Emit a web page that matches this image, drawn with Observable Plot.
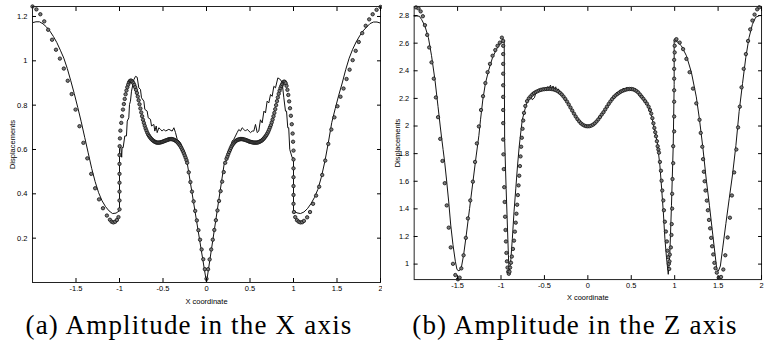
<!DOCTYPE html>
<html><head><meta charset="utf-8">
<script src="https://cdn.jsdelivr.net/npm/d3@7"></script>
<script src="https://cdn.jsdelivr.net/npm/@observablehq/plot@0.6"></script>
<style>
html,body{margin:0;padding:0;background:#fff;overflow:hidden;width:764px;height:350px;}
#a{position:absolute;left:0;top:0;}
#b{position:absolute;left:382px;top:0;}
.cap{position:absolute;top:310px;font-family:"Liberation Serif",serif;font-size:27px;letter-spacing:1.2px;white-space:nowrap;transform:translateX(-50%);color:#000;line-height:30px;}
</style></head><body>
<div id="a"></div><div id="b"></div>
<div class="cap" style="left:189px">(a) Amplitude in the X axis</div>
<div class="cap" style="left:575px">(b) Amplitude in the Z axis</div>
<script>
const xTicks = [-1.5, -1, -0.5, 0, 0.5, 1, 1.5, 2];
const aYTicks = [0.2, 0.4, 0.6, 0.8, 1, 1.2];
const bYTicks = [1, 1.2, 1.4, 1.6, 1.8, 2, 2.2, 2.4, 2.6, 2.8];
const xLabel = "X coordinate";
const yLabel = "Displacements";

// Panel (a): circles
const aDots = [[-2.00,1.245],[-1.955,1.232],[-1.91,1.21],[-1.865,1.178],[-1.82,1.14],[-1.775,1.095],[-1.73,1.05],[-1.685,1.01],[-1.64,0.965],[-1.595,0.91],[-1.55,0.85],[-1.505,0.78],[-1.46,0.705],[-1.415,0.63],[-1.37,0.56],[-1.325,0.49],[-1.28,0.425],[-1.235,0.375],[-1.19,0.335],[-1.145,0.302],[-1.11,0.283],[-1.09,0.274],[-1.07,0.271],[-1.05,0.274],[-1.03,0.282],[-1.012,0.295],
[-1.0,0.33],[-1.0,0.37],[-1.0,0.41],[-1.0,0.45],[-1.0,0.49],[-1.0,0.535],[-1.0,0.575],[-0.998,0.615],[-0.995,0.65],[-0.99,0.685],[-0.98,0.72],[-0.97,0.75],[-0.96,0.78],[-0.95,0.805],[-0.94,0.828],[-0.93,0.849],[-0.92,0.866],[-0.91,0.881],[-0.90,0.893],[-0.89,0.903],[-0.88,0.909],[-0.87,0.911],
[-0.86,0.909],[-0.85,0.905],[-0.84,0.899],[-0.83,0.891],[-0.82,0.881],[-0.81,0.869],[-0.80,0.855],[-0.79,0.839],[-0.78,0.822],[-0.77,0.804],[-0.76,0.785],[-0.75,0.767],[-0.74,0.75],[-0.73,0.734],[-0.72,0.72],[-0.71,0.707],[-0.70,0.695],[-0.69,0.685],[-0.68,0.675],[-0.67,0.667],[-0.66,0.661],[-0.65,0.655],[-0.64,0.65],[-0.63,0.646],[-0.62,0.642],[-0.61,0.639],[-0.60,0.636],[-0.59,0.634],[-0.58,0.632],[-0.57,0.631],[-0.56,0.631],[-0.55,0.631],[-0.54,0.631],[-0.53,0.632],[-0.52,0.633],[-0.51,0.634],[-0.50,0.636],[-0.49,0.637],[-0.48,0.639],[-0.47,0.64],[-0.46,0.642],[-0.45,0.643],[-0.44,0.645],[-0.43,0.646],[-0.42,0.647],[-0.41,0.647],[-0.40,0.647],[-0.39,0.646],[-0.38,0.645],[-0.37,0.643],[-0.36,0.641],[-0.35,0.638],[-0.34,0.635],[-0.33,0.631],[-0.32,0.626],[-0.31,0.621],[-0.30,0.615],[-0.29,0.608],[-0.28,0.60],[-0.27,0.592],[-0.26,0.583],[-0.25,0.573],[-0.24,0.563],[-0.23,0.552],[-0.222,0.54],
[-0.204,0.497],[-0.185,0.453],[-0.167,0.41],[-0.148,0.366],[-0.13,0.323],[-0.111,0.28],[-0.093,0.236],[-0.074,0.193],[-0.056,0.149],[-0.037,0.105],[-0.019,0.06],[0.0,0.017],
[0.018,0.06],[0.036,0.104],[0.054,0.149],[0.072,0.193],[0.09,0.237],[0.108,0.281],[0.126,0.325],[0.144,0.368],[0.162,0.412],[0.18,0.455],[0.198,0.498],[0.215,0.54],
[0.23,0.558],[0.24,0.568],[0.25,0.579],[0.26,0.589],[0.27,0.598],[0.28,0.607],[0.29,0.615],[0.30,0.622],[0.31,0.627],[0.32,0.632],[0.33,0.636],[0.34,0.639],[0.35,0.642],[0.36,0.644],[0.37,0.645],[0.38,0.646],[0.39,0.647],[0.40,0.647],[0.41,0.647],[0.42,0.646],[0.43,0.645],[0.44,0.644],[0.45,0.643],[0.46,0.641],[0.47,0.64],[0.48,0.638],[0.49,0.636],[0.50,0.635],[0.51,0.634],[0.52,0.633],[0.53,0.632],[0.54,0.631],[0.55,0.631],[0.56,0.631],[0.57,0.631],[0.58,0.631],[0.59,0.632],[0.60,0.633],[0.61,0.635],[0.62,0.637],[0.63,0.639],[0.64,0.642],[0.65,0.646],[0.66,0.65],[0.67,0.655],[0.68,0.66],[0.69,0.666],[0.70,0.673],[0.71,0.681],[0.72,0.69],[0.73,0.70],[0.74,0.71],[0.75,0.722],[0.76,0.735],[0.77,0.75],[0.78,0.765],[0.79,0.782],[0.80,0.80],[0.81,0.818],[0.82,0.835],[0.83,0.851],[0.84,0.865],[0.85,0.877],[0.86,0.887],[0.87,0.895],[0.88,0.902],[0.89,0.906],[0.90,0.905],[0.91,0.899],[0.92,0.887],[0.93,0.869],[0.94,0.846],[0.95,0.817],[0.96,0.786],[0.97,0.752],[0.98,0.714],[0.99,0.672],[0.995,0.635],
[1.0,0.595],[1.0,0.555],[1.0,0.515],[1.0,0.475],[1.0,0.435],[1.0,0.395],[1.0,0.355],[1.005,0.318],[1.02,0.295],[1.04,0.281],[1.06,0.274],[1.08,0.271],[1.10,0.272],[1.12,0.278],[1.157,0.294],[1.19,0.318],[1.225,0.355],[1.26,0.392],[1.295,0.432],[1.33,0.485],[1.365,0.55],[1.40,0.625],[1.435,0.69],[1.47,0.745],[1.505,0.795],[1.54,0.838],[1.575,0.875],[1.61,0.918],[1.645,0.96],[1.68,1.003],[1.715,1.045],[1.75,1.085],[1.79,1.125],[1.83,1.158],[1.87,1.187],[1.91,1.21],[1.955,1.23],[2.0,1.243]];

// Panel (a): solid line
const aLine = [[-2.00,1.172],[-1.96,1.176],[-1.92,1.176],[-1.88,1.167],[-1.84,1.153],[-1.80,1.134],[-1.76,1.11],[-1.72,1.082],[-1.68,1.048],[-1.64,1.012],[-1.60,0.965],[-1.56,0.91],[-1.52,0.852],[-1.48,0.79],[-1.44,0.725],[-1.40,0.655],[-1.36,0.585],[-1.32,0.515],[-1.28,0.455],[-1.24,0.405],[-1.20,0.368],[-1.16,0.342],[-1.12,0.323],[-1.08,0.311],[-1.04,0.313],[-1.00,0.324],
[-1.0,0.605],[-0.985,0.61],[-0.975,0.565],[-0.97,0.61],[-0.958,0.608],[-0.939,0.661],[-0.92,0.661],[-0.911,0.728],[-0.893,0.743],[-0.885,0.803],[-0.874,0.818],[-0.862,0.863],[-0.835,0.915],[-0.816,0.930],[-0.797,0.926],[-0.778,0.878],[-0.759,0.871],[-0.747,0.833],[-0.72,0.818],[-0.709,0.781],[-0.682,0.773],[-0.67,0.743],[-0.644,0.736],[-0.632,0.706],[-0.605,0.713],[-0.594,0.683],[-0.578,0.706],[-0.567,0.676],[-0.548,0.698],[-0.529,0.691],[-0.51,0.683],[-0.49,0.691],[-0.471,0.683],[-0.433,0.691],[-0.395,0.683],[-0.375,0.698],[-0.356,0.676],[-0.337,0.646],[-0.299,0.631],[-0.261,0.586],[-0.241,0.563],[-0.222,0.54],[0.0,0.0],
[0.205,0.54],[0.238,0.556],[0.276,0.608],[0.295,0.638],[0.314,0.646],[0.333,0.661],[0.352,0.676],[0.371,0.69],[0.391,0.683],[0.41,0.698],[0.429,0.691],[0.448,0.683],[0.467,0.691],[0.506,0.676],[0.525,0.683],[0.544,0.683],[0.563,0.713],[0.583,0.676],[0.601,0.683],[0.62,0.734],[0.64,0.72],[0.66,0.773],[0.678,0.765],[0.697,0.818],[0.716,0.81],[0.736,0.848],[0.755,0.84],[0.774,0.885],[0.793,0.878],[0.82,0.923],[0.851,0.915],[0.87,0.90],[0.889,0.833],[0.908,0.773],[0.92,0.773],[0.934,0.698],[0.945,0.698],[0.957,0.60],[0.985,0.563],[1.0,0.563],[1.0,0.324],
[1.04,0.314],[1.08,0.311],[1.12,0.318],[1.16,0.333],[1.20,0.355],[1.24,0.383],[1.28,0.42],[1.32,0.475],[1.36,0.545],[1.40,0.63],[1.44,0.722],[1.48,0.785],[1.52,0.845],[1.56,0.90],[1.60,0.96],[1.64,1.012],[1.68,1.052],[1.72,1.085],[1.76,1.112],[1.80,1.135],[1.84,1.152],[1.88,1.168],[1.92,1.175],[1.96,1.175],[2.00,1.17]];

// Panel (b): circles
const bDots = [[-1.978,2.859],[-1.95,2.852],[-1.925,2.83],[-1.90,2.795],[-1.876,2.73],[-1.85,2.66],[-1.827,2.569],[-1.80,2.461],[-1.774,2.343],[-1.75,2.207],[-1.725,2.064],[-1.70,1.907],[-1.674,1.747],[-1.648,1.586],[-1.625,1.425],[-1.602,1.264],[-1.579,1.121],[-1.553,1.002],[-1.526,0.921],[-1.496,0.89],[-1.476,0.902],[-1.457,0.969],[-1.431,1.064],[-1.405,1.19],[-1.381,1.331],[-1.354,1.461],[-1.324,1.597],[-1.299,1.74],[-1.278,1.874],[-1.255,1.997],[-1.23,2.116],[-1.207,2.216],[-1.18,2.311],[-1.154,2.39],[-1.127,2.45],[-1.097,2.509],[-1.066,2.55],[-1.04,2.581],[-1.013,2.604],[-0.99,2.64],
[-0.975,2.616],[-0.975,2.581],[-0.975,2.521],[-0.975,2.45],[-0.975,2.379],[-0.975,2.295],[-0.975,2.211],[-0.975,2.116],[-0.975,2.021],[-0.975,1.902],[-0.972,1.795],[-0.968,1.688],[-0.963,1.557],[-0.958,1.45],[-0.953,1.343],[-0.948,1.247],[-0.943,1.164],[-0.938,1.081],[-0.932,1.02],[-0.925,0.975],[-0.917,0.945],[-0.91,0.93],[-0.902,0.945],[-0.895,0.975],[-0.885,1.01],[-0.875,1.055],[-0.862,1.11],[-0.85,1.17],[-0.84,1.235],[-0.83,1.30],[-0.822,1.365],[-0.814,1.43],[-0.806,1.50],[-0.798,1.57],[-0.79,1.64],[-0.782,1.71],[-0.775,1.78],[-0.768,1.85],[-0.76,1.915],[-0.752,1.98],[-0.744,2.04],[-0.735,2.095],[-0.72,2.145],[-0.70,2.18],
[-0.68,2.20],[-0.66,2.215],[-0.64,2.228],[-0.62,2.238],[-0.60,2.246],[-0.58,2.252],[-0.56,2.258],[-0.54,2.262],[-0.52,2.265],[-0.50,2.267],[-0.48,2.268],[-0.46,2.269],[-0.44,2.269],[-0.42,2.268],[-0.40,2.266],[-0.38,2.262],[-0.36,2.257],[-0.34,2.25],[-0.32,2.24],[-0.30,2.228],[-0.28,2.213],[-0.26,2.196],[-0.24,2.177],[-0.22,2.156],[-0.20,2.134],[-0.18,2.112],[-0.16,2.09],[-0.14,2.069],[-0.12,2.05],[-0.10,2.034],[-0.08,2.02],[-0.06,2.01],[-0.04,2.003],[-0.02,1.999],[0,1.998],[0.02,1.999],[0.04,2.003],[0.06,2.01],[0.08,2.02],[0.10,2.033],[0.12,2.048],[0.14,2.065],[0.16,2.083],[0.18,2.10],[0.20,2.12],[0.22,2.14],[0.24,2.16],[0.26,2.178],[0.28,2.195],[0.30,2.21],[0.32,2.222],[0.34,2.232],[0.36,2.241],[0.38,2.249],[0.40,2.255],[0.42,2.26],[0.44,2.264],[0.46,2.267],[0.48,2.268],[0.50,2.268],[0.52,2.266],[0.54,2.261],[0.56,2.253],[0.58,2.243],[0.60,2.228],[0.62,2.212],[0.64,2.197],[0.66,2.18],[0.68,2.162],[0.70,2.14],[0.716,2.116],[0.73,2.09],[0.743,2.057],[0.755,2.02],[0.766,1.986],[0.776,1.955],[0.785,1.926],[0.795,1.89],[0.804,1.854],[0.812,1.83],[0.819,1.807],[0.83,1.74],[0.842,1.676],[0.849,1.604],[0.857,1.533],[0.869,1.461],[0.876,1.39],[0.887,1.307],[0.899,1.236],[0.91,1.164],[0.918,1.097],[0.926,1.05],[0.933,1.002],[0.937,0.965],[0.94,1.02],
[0.944,1.069],[0.956,1.121],[0.963,1.211],[0.966,1.29],[0.971,1.402],[0.971,1.509],[0.975,1.616],[0.983,1.731],[0.983,1.854],[0.994,1.961],[0.994,2.069],[0.994,2.176],[0.994,2.259],[0.994,2.343],[0.994,2.414],[0.994,2.479],[1.0,2.533],[1.0,2.581],[1.01,2.621],[1.02,2.629],[1.058,2.604],[1.097,2.557],[1.135,2.486],[1.172,2.39],[1.211,2.271],[1.249,2.164],[1.286,2.045],[1.30,1.95],[1.318,1.85],[1.327,1.76],[1.336,1.669],[1.345,1.60],[1.355,1.533],[1.37,1.46],[1.382,1.39],[1.395,1.32],[1.408,1.259],[1.42,1.19],[1.431,1.129],[1.444,1.07],[1.457,1.009],[1.47,0.97],[1.485,0.938],[1.507,0.902],[1.534,0.907],[1.56,0.961],[1.583,1.064],[1.61,1.193],[1.636,1.336],[1.659,1.497],[1.685,1.664],[1.71,1.83],[1.73,1.99],[1.75,2.14],[1.77,2.28],[1.795,2.414],[1.82,2.521],[1.845,2.616],[1.87,2.70],[1.895,2.764],[1.92,2.807],[1.95,2.845],[1.975,2.86]];

// Panel (b): solid line
const bLine = [[-2.0,2.795],[-1.97,2.797],[-1.94,2.795],[-1.914,2.771],[-1.876,2.724],[-1.836,2.64],[-1.80,2.509],[-1.76,2.331],[-1.725,2.14],[-1.70,2.00],[-1.685,1.92],[-1.667,1.83],[-1.648,1.735],[-1.628,1.616],[-1.602,1.45],[-1.579,1.283],[-1.553,1.14],[-1.526,1.021],[-1.507,0.961],[-1.484,0.95],[-1.457,0.974],[-1.43,1.069],[-1.40,1.211],[-1.362,1.402],[-1.324,1.593],[-1.286,1.783],[-1.255,1.93],[-1.236,2.045],[-1.21,2.188],[-1.18,2.307],[-1.143,2.402],[-1.097,2.497],[-1.051,2.557],[-1.013,2.593],[-0.983,2.616],[-0.963,2.621],[-0.958,1.90],[-0.941,1.545],[-0.915,1.069],[-0.906,0.926],[-0.887,1.033],[-0.869,1.188],[-0.85,1.379],[-0.83,1.545],[-0.81,1.711],[-0.79,1.854],[-0.773,1.95],[-0.755,2.045],[-0.716,2.14],[-0.678,2.211],[-0.66,2.222],[-0.64,2.19],[-0.615,2.205],[-0.60,2.238],[-0.56,2.255],[-0.52,2.265],[-0.48,2.27],[-0.46,2.286],[-0.45,2.27],[-0.43,2.296],[-0.42,2.27],[-0.40,2.29],[-0.39,2.266],[-0.37,2.284],[-0.36,2.258],[-0.34,2.268],[-0.32,2.242],[-0.30,2.228],[-0.28,2.213],[-0.24,2.177],[-0.20,2.134],[-0.16,2.09],[-0.12,2.05],[-0.08,2.02],[-0.04,2.003],[0,1.998],[0.04,2.003],[0.08,2.02],[0.12,2.048],[0.16,2.083],[0.20,2.12],[0.24,2.16],[0.28,2.195],[0.32,2.222],[0.335,2.245],[0.345,2.233],[0.375,2.262],[0.385,2.25],[0.41,2.275],[0.42,2.259],[0.45,2.28],[0.46,2.267],[0.50,2.268],[0.54,2.261],[0.56,2.253],[0.575,2.24],[0.59,2.22],[0.61,2.21],[0.625,2.225],[0.64,2.197],[0.66,2.18],[0.70,2.14],[0.735,2.069],[0.77,1.97],[0.80,1.88],[0.83,1.711],[0.85,1.545],[0.869,1.379],[0.887,1.188],[0.906,1.045],[0.926,0.926],[0.944,1.069],[0.963,1.426],[0.983,1.854],[0.994,2.3],[0.994,2.621],[1.02,2.616],[1.077,2.581],[1.135,2.509],[1.192,2.39],[1.249,2.211],[1.286,2.045],[1.325,1.84],[1.363,1.616],[1.40,1.426],[1.439,1.211],[1.465,1.069],[1.485,0.961],[1.503,0.95],[1.526,0.986],[1.553,1.117],[1.59,1.295],[1.628,1.474],[1.667,1.652],[1.705,1.86],[1.742,2.104],[1.781,2.307],[1.819,2.497],[1.856,2.64],[1.895,2.736],[1.933,2.788],[1.979,2.80],[2.0,2.80]];

const fmt = d => String(d);
const blank = () => "";

function panel(dots, line, yDomain, yTicks, width, marginRight, labelDx) {
  return Plot.plot({
    width, height: 300,
    marginLeft: 32, marginRight, marginTop: 6, marginBottom: 18,
    style: {fontFamily: "'Liberation Sans', Arial, sans-serif", fontSize: "7.5px", color: "#000", background: "white", overflow: "visible"},
    x: {domain: [-2, 2]},
    y: {domain: yDomain},
    marks: [
      Plot.line(line, {x: d => d[0], y: d => d[1], stroke: "#111", strokeWidth: 1}),
      Plot.dot(dots, {x: d => d[0], y: d => d[1], r: 1.7, fill: "#7a7a7a", stroke: "#111", strokeWidth: 0.8}),
      Plot.frame({stroke: "#222", strokeWidth: 1}),
      Plot.axisX(xTicks, {anchor: "bottom", tickSize: -4, tickPadding: 7.5, tickFormat: fmt, label: null, fill: "#000"}),
      Plot.axisX(xTicks, {anchor: "top", tickSize: -4, tickFormat: blank, label: null}),
      Plot.axisY(yTicks, {anchor: "left", tickSize: -4, tickPadding: 9, tickFormat: fmt, label: null, fill: "#000"}),
      Plot.axisY(yTicks, {anchor: "right", tickSize: -4, tickFormat: blank, label: null}),
      Plot.text([xLabel], {frameAnchor: "bottom", dy: 21, text: d => d, fontSize: 7.5, fill: "#000"}),
      Plot.text([yLabel], {frameAnchor: "left", dx: labelDx, rotate: -90, textAnchor: "middle", lineAnchor: "middle", text: d => d, fontSize: 7.5, fill: "#000"})
    ]
  });
}

document.getElementById("a").append(panel(aDots, aLine, [0, 1.245], aYTicks, 382, 2, -20));
document.getElementById("b").append(panel(bDots, bLine, [0.888, 2.866], bYTicks, 386, 3, -17));
</script></body></html>
